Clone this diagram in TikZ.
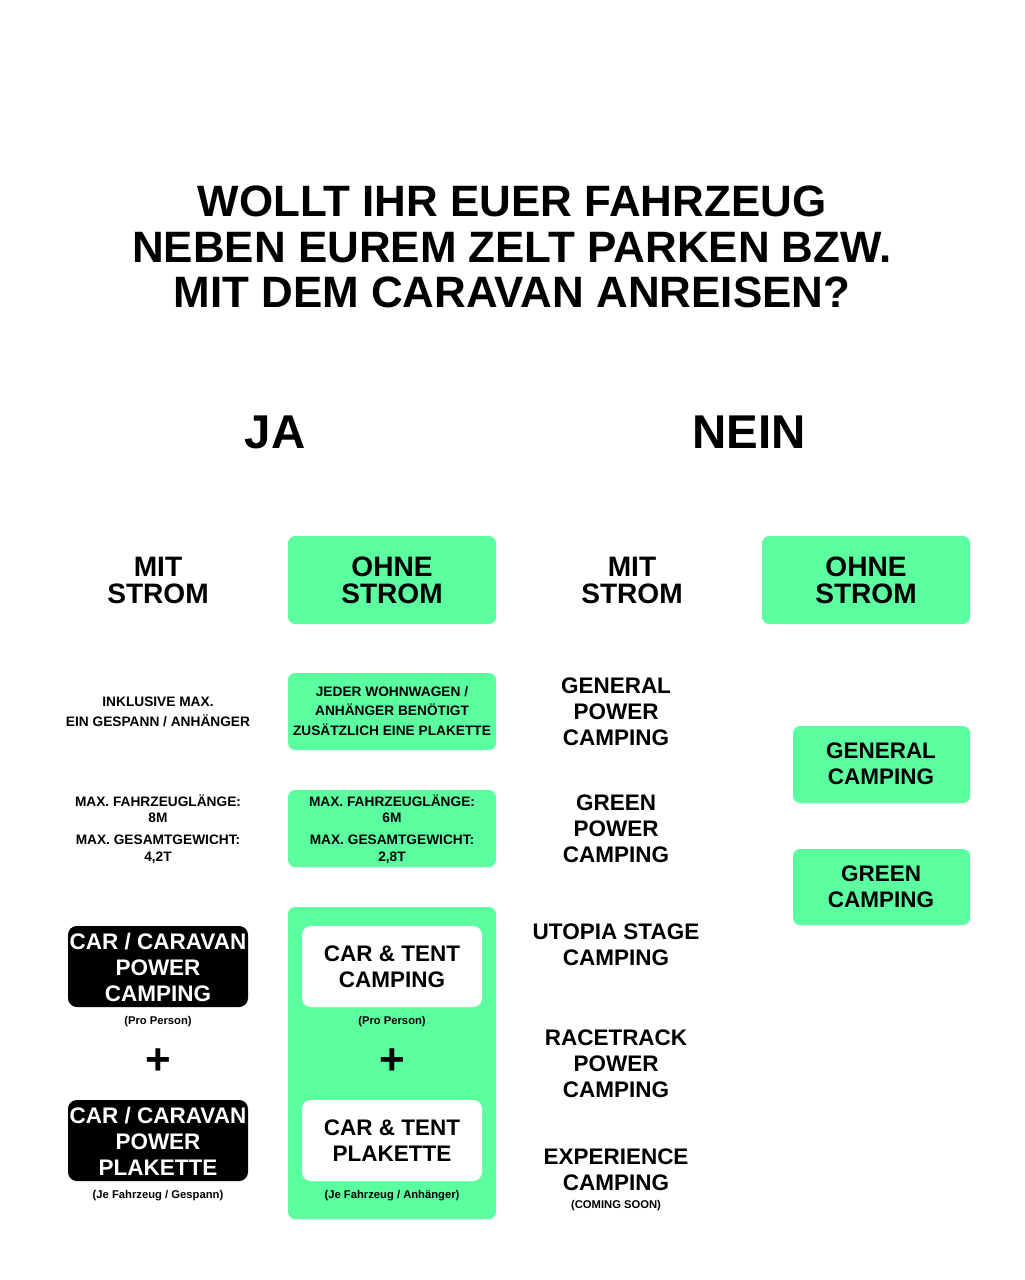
\documentclass[tikz,border=0pt]{standalone}
\usepackage{fontspec}
\setmainfont{Liberation Sans}
\usetikzlibrary{positioning}
\definecolor{cgreen}{RGB}{92,255,160}
\tikzset{
    head/.style={font=\bfseries\fontsize{25}{26}\selectfont, align=center},
    sub/.style={font=\bfseries\fontsize{16}{15.4}\selectfont, align=center},
    zone/.style={font=\bfseries\fontsize{12.8}{14.8}\selectfont, align=center},
    small/.style={font=\bfseries\fontsize{7.8}{11.2}\selectfont, align=center},
    tiny/.style={font=\bfseries\fontsize{6.4}{8}\selectfont, align=center},
    greenbox/.style={fill=cgreen, rounded corners=4pt},
    blackbox/.style={fill=black, rounded corners=5pt},
    whitebox/.style={fill=white, rounded corners=5pt}
  }
\begin{document}
\begin{tikzpicture}[x=0.02cm, y=-0.02cm]
 \useasboundingbox (0,0) rectangle (1024,1280);
 % boxes
     \fill[greenbox] (288,536) rectangle (496,624);
     \fill[greenbox] (762,536) rectangle (970,624);
     \fill[greenbox] (288,673) rectangle (496,750);
     \fill[greenbox] (288,790) rectangle (496,867);
     \fill[greenbox] (288,907) rectangle (496,1219);
     \fill[whitebox] (302,926) rectangle (482,1007);
     \fill[whitebox] (302,1100) rectangle (482,1181);
     \fill[blackbox] (68,926) rectangle (248,1007);
     \fill[blackbox] (68,1100) rectangle (248,1181);
     \fill[greenbox] (793,726) rectangle (970,803);
     \fill[greenbox] (793,849) rectangle (970,925);
 % title
     \node[head] (title) at (512,247) {WOLLT IHR EUER FAHRZEUG\\NEBEN EUREM ZELT PARKEN BZW.\\MIT DEM CARAVAN ANREISEN?};
     \node[head, font=\bfseries\fontsize{27}{28}\selectfont] (ja) at (275,432) {JA};
     \node[head, font=\bfseries\fontsize{27}{28}\selectfont] (nein) at (749,432) {NEIN};
 % ja
     \node[sub] (jamit) at (158,580) {MIT\\STROM};
     \node[sub] (jaohne) at (392,580) {OHNE\\STROM};
     \node[small] (inkl) at (158,712) {INKLUSIVE MAX.\\EIN GESPANN / ANHÄNGER};
     \node[small] (jeder) at (392,711) {JEDER WOHNWAGEN /\\ANHÄNGER BENÖTIGT\\ZUSÄTZLICH EINE PLAKETTE};
     \node[small, font=\bfseries\fontsize{7.8}{9.5}\selectfont] (maxa) at (158,829) {MAX. FAHRZEUGLÄNGE:\\8M\\[3pt]MAX. GESAMTGEWICHT:\\4,2T};
     \node[small, font=\bfseries\fontsize{7.8}{9.5}\selectfont] (maxb) at (392,829) {MAX. FAHRZEUGLÄNGE:\\6M\\[3pt]MAX. GESAMTGEWICHT:\\2,8T};
     \node[zone, white] (ccpc) at (158,967) {CAR / CARAVAN\\POWER\\CAMPING};
     \node[zone, white] (ccpp) at (158,1141) {CAR / CARAVAN\\POWER\\PLAKETTE};
     \node[zone] (ctc) at (392,967) {CAR \& TENT\\CAMPING};
     \node[zone] (ctp) at (392,1141) {CAR \& TENT\\PLAKETTE};
     \node[tiny] (proa) at (158,1022) {(Pro Person)};
     \node[tiny] (prob) at (392,1022) {(Pro Person)};
     \node[head] (plusa) at (158,1062) {+};
     \node[head] (plusb) at (392,1062) {+};
     \node[tiny] (jea) at (158,1196) {(Je Fahrzeug / Gespann)};
     \node[tiny] (jeb) at (392,1196) {(Je Fahrzeug / Anhänger)};
 % nein
     \node[sub] (neinmit) at (632,580) {MIT\\STROM};
     \node[sub] (neinohne) at (866,580) {OHNE\\STROM};
     \node[zone] (gpc) at (616,712) {GENERAL\\POWER\\CAMPING};
     \node[zone] (grpc) at (616,829) {GREEN\\POWER\\CAMPING};
     \node[zone] (utopia) at (616,945) {UTOPIA STAGE\\CAMPING};
     \node[zone] (race) at (616,1064) {RACETRACK\\POWER\\CAMPING};
     \node[zone] (exp) at (616,1170) {EXPERIENCE\\CAMPING};
     \node[tiny] (soon) at (616,1206) {(COMING SOON)};
     \node[zone] (gc) at (881,764) {GENERAL\\CAMPING};
     \node[zone] (grc) at (881,887) {GREEN\\CAMPING};
 \end{tikzpicture}
\end{document}
